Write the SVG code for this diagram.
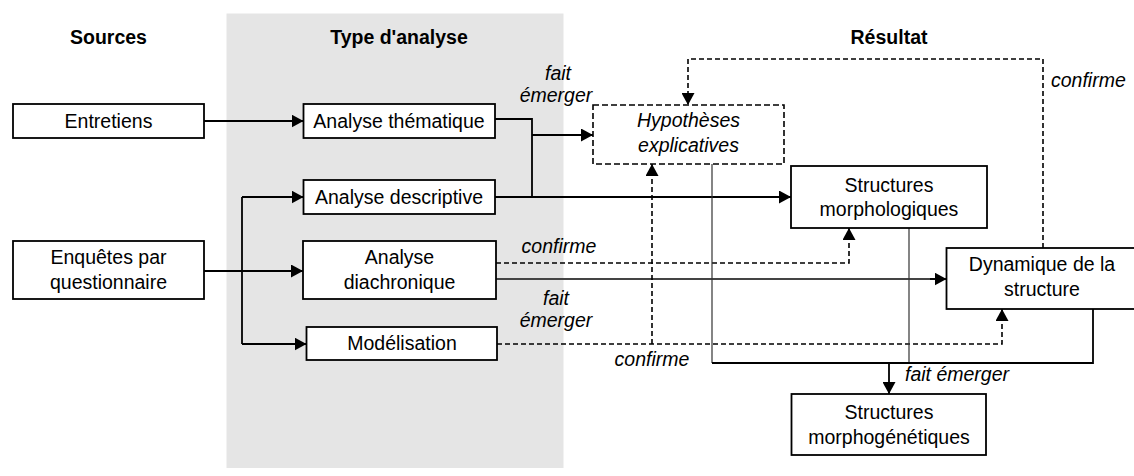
<svg xmlns="http://www.w3.org/2000/svg" width="1134" height="476" viewBox="0 0 1134 476">
<defs>
<marker id="ah" markerUnits="userSpaceOnUse" markerWidth="13" markerHeight="13" refX="12" refY="6.5" orient="auto">
<path d="M0,0 L12,6.5 L0,13 z" fill="#000"/>
</marker>
<style>
text{font-family:"Liberation Sans",Arial,sans-serif;font-size:19.5px;fill:#000;text-anchor:middle}
.h{font-weight:bold}
.i{font-style:italic}
.l{text-anchor:start}
.box{fill:#fff;stroke:#000;stroke-width:1.8}
.dbox{fill:#fff;stroke:#000;stroke-width:1.6;stroke-dasharray:6,3}
.c{fill:none;stroke:#000;stroke-width:1.8}
.d{fill:none;stroke:#000;stroke-width:1.6;stroke-dasharray:5,3}
.g{fill:none;stroke:#444;stroke-width:2}
.t{fill:none;stroke:#333;stroke-width:1.2}
.a{marker-end:url(#ah)}
</style>
</defs>
<rect id="panel" x="226.5" y="13.5" width="337" height="454.5" fill="#e5e5e5"/>
<g id="headers">
<text class="h" x="108.5" y="44">Sources</text>
<text class="h" x="399" y="44">Type d'analyse</text>
<text class="h" x="889" y="44">Résultat</text>
</g>
<g id="connectors">
<path class="c a" d="M204,121 H303.5"/>
<path class="c a" d="M204,271 H303"/>
<path class="c" d="M242,344 V197"/>
<path class="c a" d="M242,197 H303.5"/>
<path class="c a" d="M242,344 H306.5"/>
<path class="c" d="M495,119 H532 V197"/>
<path class="c a" d="M532,135 H593"/>
<path class="c a" d="M495,197 H791"/>
<path class="d a" d="M496,263 H849 V228"/>
<path class="g" d="M496,279 H935"/>
<path class="c a" d="M930,279 H946.5"/>
<path class="d a" d="M497,344 H1002 V309"/>
<path class="d a" d="M652,344 V164"/>
<path class="d a" d="M1043,248 V59 H688 V105"/>
<path class="t" d="M712,164 V363"/>
<path class="t" d="M909,228 V363"/>
<path class="c" d="M1093,309 V363 H712"/>
<path class="c a" d="M889,363 V394"/>
<text class="i" x="558" y="80">fait</text>
<text class="i" x="556" y="102">émerger</text>
<text class="i" x="559" y="253">confirme</text>
<text class="i" x="556" y="305">fait</text>
<text class="i" x="556" y="327">émerger</text>
<text class="i" x="652" y="366">confirme</text>
<text class="i l" x="1051" y="87">confirme</text>
<text class="i l" x="905" y="381">fait émerger</text>
</g>
<g id="entretiens">
<rect class="box" x="13" y="104" width="191" height="34"/>
<text x="108.5" y="128">Entretiens</text>
</g>
<g id="enquetes">
<rect class="box" x="13" y="241" width="191" height="58"/>
<text x="108.5" y="264">Enquêtes par</text>
<text x="108.5" y="289">questionnaire</text>
</g>
<g id="thematique">
<rect class="box" x="303.5" y="104" width="191.5" height="34"/>
<text x="399" y="128">Analyse thématique</text>
</g>
<g id="descriptive">
<rect class="box" x="303.5" y="180" width="191.5" height="34"/>
<text x="399" y="204">Analyse descriptive</text>
</g>
<g id="diachronique">
<rect class="box" x="303" y="241" width="193" height="58"/>
<text x="399.5" y="264">Analyse</text>
<text x="399.5" y="289">diachronique</text>
</g>
<g id="modelisation">
<rect class="box" x="306.5" y="327" width="190.5" height="33"/>
<text x="402" y="350">Modélisation</text>
</g>
<g id="hypotheses">
<rect class="dbox" x="593" y="105" width="191" height="59"/>
<text class="i" x="688.5" y="127">Hypothèses</text>
<text class="i" x="688.5" y="152">explicatives</text>
</g>
<g id="morphologiques">
<rect class="box" x="791" y="166" width="196" height="62"/>
<text x="889" y="192">Structures</text>
<text x="889" y="216">morphologiques</text>
</g>
<g id="dynamique">
<rect class="box" x="946.5" y="248" width="192" height="61"/>
<text x="1042" y="271">Dynamique de la</text>
<text x="1042" y="296">structure</text>
</g>
<g id="morphogenetiques">
<rect class="box" x="791.5" y="394" width="194.5" height="61"/>
<text x="889" y="419">Structures</text>
<text x="889" y="444">morphogénétiques</text>
</g>
</svg>
